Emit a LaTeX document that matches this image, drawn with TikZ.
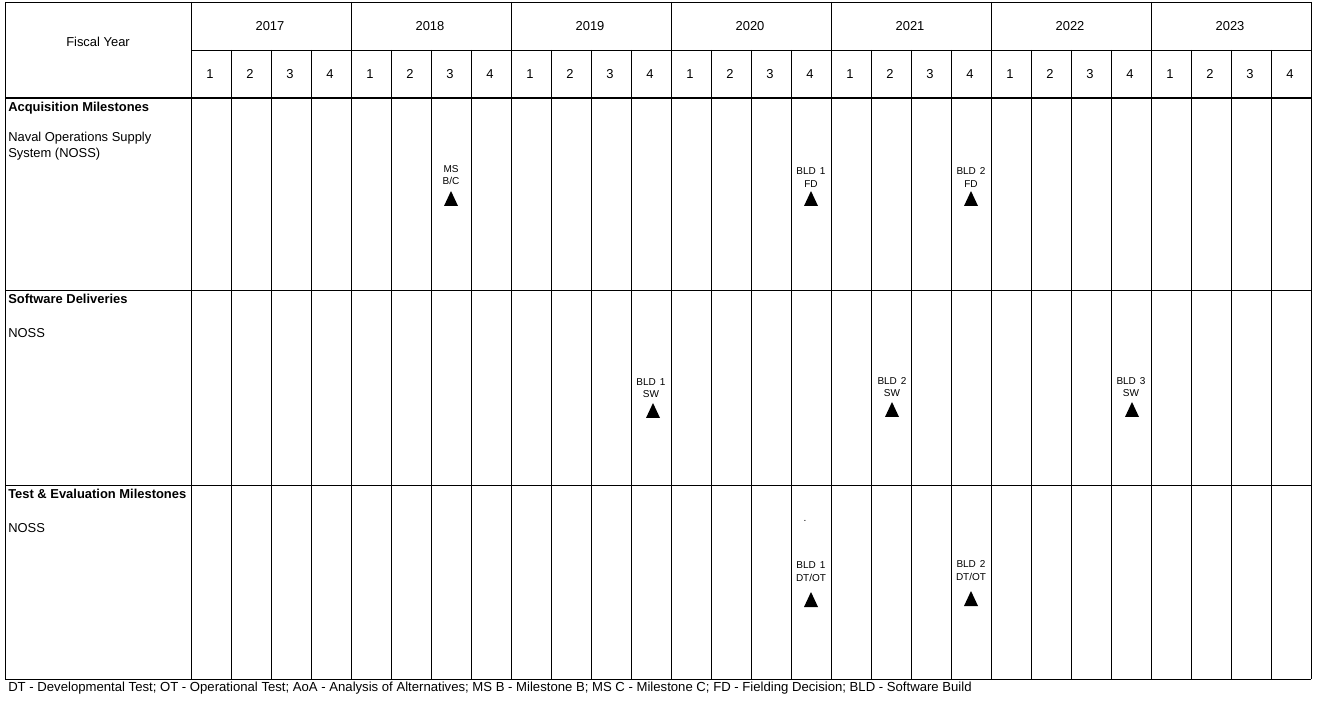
\documentclass[tikz,border=0pt]{standalone}
\usepackage{fontspec}
\setmainfont{Liberation Sans}
\begin{document}
\begin{tikzpicture}[x=0.75pt,y=-0.75pt,
  every node/.style={inner sep=0pt,font=\fontsize{9.7}{12}\selectfont},
  hdr/.style={anchor=west,font=\fontsize{9.7}{12}\selectfont\bfseries},
  txt/.style={anchor=west,align=left},
  lbl/.style={align=center,font=\fontsize{7.5}{9.5}\selectfont},
  tri/.pic={\fill (-7,8) -- (7,8) -- (0,-7) -- cycle;}]
\useasboundingbox (0,0) rectangle (1329,702);
% grid
\draw (5,2) -- (1311,2);
\draw (191,50) -- (1311,50);
\draw[line width=1.5pt] (5,98) -- (1311,98);
\foreach \y in {290,485,679} \draw (5,\y) -- (1311,\y);
\draw (5,2) -- (5,679);
\foreach \k in {0,...,28} \draw (191+40*\k,50) -- (191+40*\k,679);
\foreach \k in {0,...,7} \draw (191+160*\k,2) -- (191+160*\k,50);
% header
\node (fy) at (98,42) {Fiscal Year};
\foreach \yr [count=\i from 0] in {2017,...,2023} {
  \node (y\yr) at (270+160*\i,26) {\yr};
  \foreach \q in {1,...,4} \node (q\yr-\q) at (170+160*\i+40*\q,74) {\q};
}
% row labels
\node[hdr] (acq) at (8,108) {Acquisition Milestones};
\node[txt] (acqsys) at (8,146) {Naval Operations Supply\\System (NOSS)};
\node[hdr] (sw) at (8,299) {Software Deliveries};
\node[txt] (swsys) at (8,333) {NOSS};
\node[hdr] (te) at (8,494) {Test \& Evaluation Milestones};
\node[txt] (tesys) at (8,528) {NOSS};
% milestones
\node[lbl] (msbc) at (451,175) {MS\\B/C};
\pic (trimsbc) at (451,198) {tri};
\node[lbl] (fd1) at (811,177.5) {BLD\hspace{3pt}1\\FD};
\pic (trifd1) at (811,198) {tri};
\node[lbl] (fd2) at (971,177.5) {BLD\hspace{3pt}2\\FD};
\pic (trifd2) at (971,198) {tri};
\node[lbl] (sw1) at (651,388) {BLD\hspace{3pt}1\\SW};
\pic (trisw1) at (653,410) {tri};
\node[lbl] (sw2) at (892,387) {BLD\hspace{3pt}2\\SW};
\pic (trisw2) at (892,409) {tri};
\node[lbl] (sw3) at (1131,387) {BLD\hspace{3pt}3\\SW};
\pic (trisw3) at (1132,409) {tri};
\node[lbl] (dot) at (805,521) {.};
\node[lbl] (dtot1) at (811,571.5) {BLD\hspace{3pt}1\\DT/OT};
\pic (tridtot1) at (811,599) {tri};
\node[lbl] (dtot2) at (971,570.5) {BLD\hspace{3pt}2\\DT/OT};
\pic (tridtot2) at (971,598) {tri};
% legend
\node[txt,font=\fontsize{9.85}{12}\selectfont] (legend) at (8,688) {DT - Developmental Test; OT - Operational Test; AoA - Analysis of Alternatives; MS B - Milestone B; MS C - Milestone C; FD - Fielding Decision; BLD - Software Build};
\end{tikzpicture}
\end{document}
